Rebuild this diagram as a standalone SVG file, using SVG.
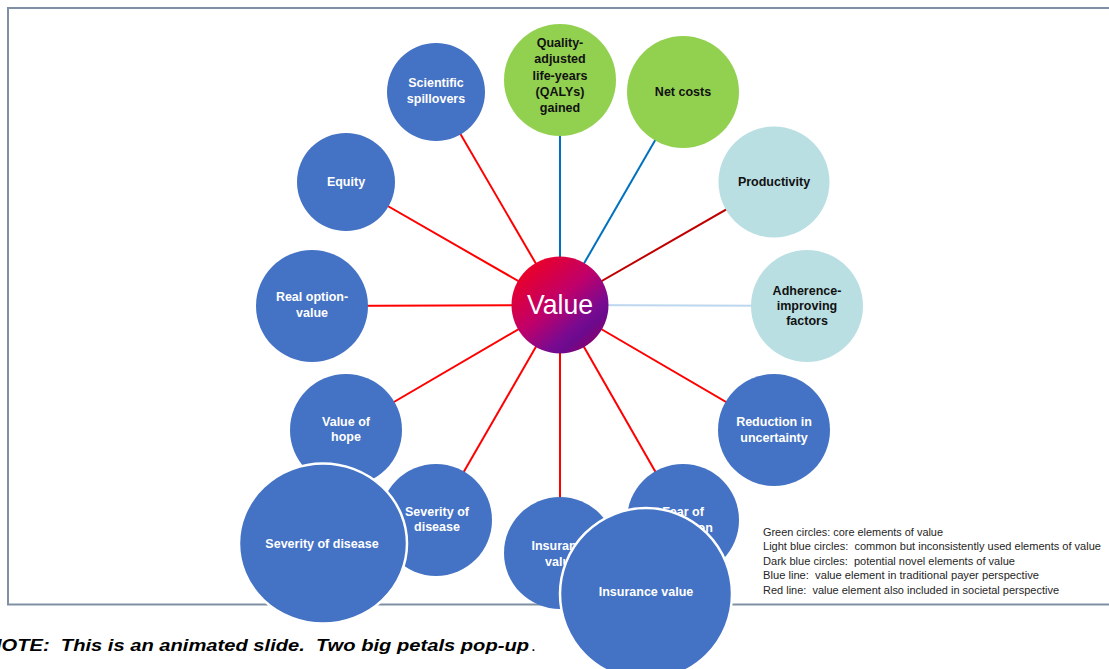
<svg xmlns="http://www.w3.org/2000/svg" width="1109" height="669" viewBox="0 0 1109 669">
  <defs>
    <linearGradient id="valueFill" x1="0.15" y1="0.1" x2="0.85" y2="0.9">
      <stop offset="0" stop-color="#ec0026"/>
      <stop offset="0.45" stop-color="#c0006a"/>
      <stop offset="0.75" stop-color="#7a0a90"/>
      <stop offset="0.85" stop-color="#6b0a8e"/>
      <stop offset="1" stop-color="#8a0070"/>
    </linearGradient>
    <style>
      .dark { fill: #4472c4; }
      .green { fill: #92d050; }
      .light { fill: #b9dfe3; }
      .big { fill: #4472c4; stroke: #ffffff; stroke-width: 2.5; }
      .lbl { font-family: "Liberation Sans", Arial, sans-serif; font-weight: bold; font-size: 12.5px; text-anchor: middle; dominant-baseline: central; }
      .w { fill: #ffffff; }
      .k { fill: #111111; }
      .con line { stroke-width: 2; }
      .red { stroke: #ff0000; }
      .dred { stroke: #c00000; }
      .blue { stroke: #0070c0; }
      .pale { stroke: #bdd7ee; }
      .legend { font-family: "Liberation Sans", Arial, sans-serif; font-size: 10px; fill: #262626; }
    </style>
  </defs>

  <rect width="1109" height="669" fill="#ffffff"/>

  <!-- slide frame (open on the right) -->
  <path d="M1112,8 H8 V604.5 H1112" fill="none" stroke="#8090a4" stroke-width="2"/>

  <!-- connectors from the hub to each element -->
  <g id="connectors" class="con">
    <line class="blue" x1="560" y1="305" x2="560" y2="80"/>
    <line class="blue" x1="560" y1="305" x2="683" y2="92"/>
    <line class="red" x1="560" y1="305" x2="436" y2="92"/>
    <line class="red" x1="560" y1="305" x2="346" y2="182"/>
    <line class="dred" x1="560" y1="305" x2="774" y2="182"/>
    <line class="pale" x1="560" y1="305" x2="807" y2="306"/>
    <line class="red" x1="560" y1="305" x2="312" y2="306"/>
    <line class="red" x1="560" y1="305" x2="346" y2="430"/>
    <line class="red" x1="560" y1="305" x2="774" y2="430"/>
    <line class="red" x1="560" y1="305" x2="436" y2="520"/>
    <line class="red" x1="560" y1="305" x2="560" y2="553"/>
    <line class="red" x1="560" y1="305" x2="683" y2="520"/>
  </g>

  <g id="qalys">
    <circle class="green" cx="560" cy="80" r="56"/>
    <text class="lbl k" x="560"><tspan x="560" y="43">Quality-</tspan><tspan x="560" y="59">adjusted</tspan><tspan x="560" y="76">life-years</tspan><tspan x="560" y="92">(QALYs)</tspan><tspan x="560" y="108">gained</tspan></text>
  </g>
  <g id="net-costs">
    <circle class="green" cx="683" cy="92" r="56"/>
    <text class="lbl k" x="683" y="92">Net costs</text>
  </g>
  <g id="scientific-spillovers">
    <circle class="dark" cx="436" cy="92" r="49"/>
    <text class="lbl w"><tspan x="436" y="83">Scientific</tspan><tspan x="436" y="99">spillovers</tspan></text>
  </g>
  <g id="equity">
    <circle class="dark" cx="346" cy="182" r="49"/>
    <text class="lbl w" x="346" y="182">Equity</text>
  </g>
  <g id="productivity">
    <circle class="light" cx="774" cy="182" r="55.5"/>
    <text class="lbl k" x="774" y="182">Productivity</text>
  </g>
  <g id="adherence">
    <circle class="light" cx="807" cy="306" r="56"/>
    <text class="lbl k"><tspan x="807" y="291">Adherence-</tspan><tspan x="807" y="306">improving</tspan><tspan x="807" y="321">factors</tspan></text>
  </g>
  <g id="real-option-value">
    <circle class="dark" cx="312" cy="306" r="56"/>
    <text class="lbl w"><tspan x="312" y="297">Real option-</tspan><tspan x="312" y="313">value</tspan></text>
  </g>
  <g id="reduction-in-uncertainty">
    <circle class="dark" cx="774" cy="430" r="56"/>
    <text class="lbl w"><tspan x="774" y="422">Reduction in</tspan><tspan x="774" y="438">uncertainty</tspan></text>
  </g>
  <g id="value-of-hope">
    <circle class="dark" cx="346" cy="430" r="56"/>
    <text class="lbl w"><tspan x="346" y="422">Value of</tspan><tspan x="346" y="437">hope</tspan></text>
  </g>
  <g id="severity-of-disease">
    <circle class="dark" cx="436" cy="520" r="56"/>
    <text class="lbl w"><tspan x="437" y="512">Severity of</tspan><tspan x="437" y="527">disease</tspan></text>
  </g>
  <g id="fear-of-contagion">
    <circle class="dark" cx="683" cy="520" r="56"/>
    <text class="lbl w"><tspan x="683" y="512">Fear of</tspan><tspan x="683" y="528">contagion</tspan></text>
  </g>
  <g id="insurance-value">
    <circle class="dark" cx="560" cy="553" r="56"/>
    <text class="lbl w"><tspan x="561" y="546">Insurance</tspan><tspan x="561" y="562">value</tspan></text>
  </g>

  <g id="value-hub">
    <circle cx="560" cy="305" r="48.5" fill="url(#valueFill)"/>
    <text x="560" y="314" text-anchor="middle" font-family="Liberation Sans, Arial, sans-serif" font-size="28" fill="#ffffff" textLength="66" lengthAdjust="spacingAndGlyphs">Value</text>
  </g>

  <!-- enlarged petals -->
  <g id="severity-of-disease-large">
    <ellipse class="big" cx="323" cy="543.5" rx="84" ry="80"/>
    <text class="lbl w" x="322" y="544">Severity of disease</text>
  </g>
  <g id="insurance-value-large">
    <circle class="big" cx="646" cy="594" r="86"/>
    <text class="lbl w" x="646" y="592">Insurance value</text>
  </g>

  <g id="legend" class="legend">
    <text x="763" y="536" textLength="180" lengthAdjust="spacingAndGlyphs">Green circles: core elements of value</text>
    <text x="763" y="550" textLength="338" lengthAdjust="spacingAndGlyphs" style="white-space:pre">Light blue circles:  common but inconsistently used elements of value</text>
    <text x="763" y="565" textLength="252" lengthAdjust="spacingAndGlyphs" style="white-space:pre">Dark blue circles:  potential novel elements of value</text>
    <text x="763" y="579" textLength="276" lengthAdjust="spacingAndGlyphs" style="white-space:pre">Blue line:  value element in traditional payer perspective</text>
    <text x="763" y="594" textLength="296" lengthAdjust="spacingAndGlyphs" style="white-space:pre">Red line:  value element also included in societal perspective</text>
  </g>

  <!-- footnote; its first letter runs off the left edge of the slide -->
  <g id="note">
    <text x="-13" y="651" font-family="Liberation Sans, Arial, sans-serif" font-size="17" font-weight="bold" font-style="italic" fill="#000000" textLength="542" lengthAdjust="spacingAndGlyphs" style="white-space:pre">NOTE:  This is an animated slide.  Two big petals pop-up</text>
    <text x="531" y="651" font-family="Liberation Sans, Arial, sans-serif" font-size="17" fill="#000000">.</text>
  </g>
</svg>
